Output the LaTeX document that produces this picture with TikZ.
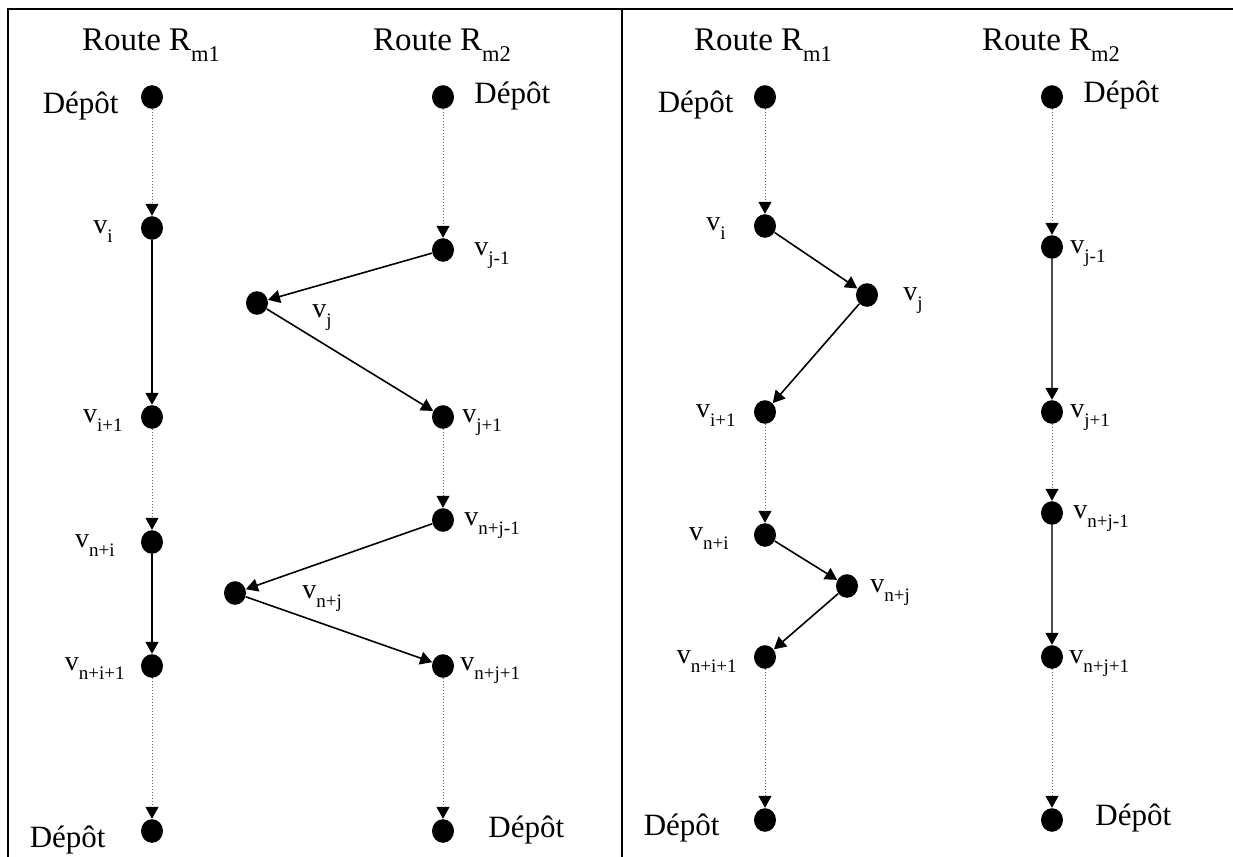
\documentclass[tikz,border=0pt]{standalone}
\usepackage{fontspec}
\setmainfont{Liberation Serif}
\usepackage{graphicx}
\usetikzlibrary{shapes.geometric, arrows.meta, positioning}

\newcommand{\lsub}[1]{\raisebox{-0.35em}{\scalebox{0.68}{#1}}}

\begin{document}
\begin{tikzpicture}[x=0.5pt, y=-0.5pt,
		stop/.style={ellipse, fill=black, inner sep=0pt, minimum width=11pt, minimum height=11.8pt},
		vlab/.style={inner sep=0pt, font=\fontsize{14}{16}\selectfont},
		deplab/.style={inner sep=0pt, font=\fontsize{15.5}{18}\selectfont},
		routelab/.style={inner sep=0pt, anchor=base, font=\fontsize{16.5}{20}\selectfont},
		link/.style={line width=0.8pt, -{Triangle[length=6pt, width=6.5pt]}},
		greylink/.style={link, draw=black!70, -{Triangle[length=6pt, width=6.5pt, color=black]}},
		hop/.style={densely dotted, line width=0.5pt, draw=black!60, -{Triangle[length=6pt, width=6.5pt, color=black]}},
		frame/.style={line width=1.2pt}]
		\useasboundingbox (0,0) rectangle (1233,857);

		% Frame
		\draw[frame] (7,9) -- (1233,9);
		\draw[frame] (8,9) -- (8,857);
		\draw[frame] (622,9) -- (622,857);

		% Left panel: routes before the move
		\node[routelab] (a1title) at (151,50) {Route R\lsub{m1}};
		\node[routelab] (a2title) at (442,50) {Route R\lsub{m2}};

		\node[stop] (a1dep) at (152,97) {};
		\node[stop] (a1vi) at (152,228) {};
		\node[stop] (a1vi1) at (152,417) {};
		\node[stop] (a1vni) at (152,542) {};
		\node[stop] (a1vni1) at (152,666) {};
		\node[stop] (a1end) at (152,831) {};

		\node[stop] (a2dep) at (443,97) {};
		\node[stop] (a2vj0) at (443,250) {};
		\node[stop] (a2vj) at (257,303) {};
		\node[stop] (a2vj1) at (443,417) {};
		\node[stop] (a2vnj0) at (443,520) {};
		\node[stop] (a2vnj) at (235,593) {};
		\node[stop] (a2vnj1) at (443,666) {};
		\node[stop] (a2end) at (443,831) {};

		\node[deplab, anchor=base east] (a1deplab) at (119,113) {Dépôt};
		\node[deplab, anchor=base west] (a2deplab) at (474,103) {Dépôt};
		\node[vlab, anchor=base east] (a1vilab) at (113,233) {v\lsub{i}};
		\node[vlab, anchor=base west] (a2vj0lab) at (474,255) {v\lsub{j-1}};
		\node[vlab, anchor=base west] (a2vjlab) at (312,317) {v\lsub{j}};
		\node[vlab, anchor=base east] (a1vi1lab) at (123,422) {v\lsub{i+1}};
		\node[vlab, anchor=base west] (a2vj1lab) at (462,422) {v\lsub{j+1}};
		\node[vlab, anchor=base west] (a2vnj0lab) at (464,525) {v\lsub{n+j-1}};
		\node[vlab, anchor=base east] (a1vnilab) at (115,547) {v\lsub{n+i}};
		\node[vlab, anchor=base west] (a2vnjlab) at (302,598) {v\lsub{n+j}};
		\node[vlab, anchor=base east] (a1vni1lab) at (125,670) {v\lsub{n+i+1}};
		\node[vlab, anchor=base west] (a2vnj1lab) at (460,670) {v\lsub{n+j+1}};
		\node[deplab, anchor=base east] (a1endlab) at (106,847) {Dépôt};
		\node[deplab, anchor=base west] (a2endlab) at (488,837) {Dépôt};

		\draw[hop] (a1dep) -- (a1vi);
		\draw[link] (a1vi) -- (a1vi1);
		\draw[hop] (a1vi1) -- (a1vni);
		\draw[link] (a1vni) -- (a1vni1);
		\draw[hop] (a1vni1) -- (a1end);

		\draw[hop] (a2dep) -- (a2vj0);
		\draw[link] (a2vj0) -- (a2vj);
		\draw[link] (a2vj) -- (a2vj1);
		\draw[hop] (a2vj1) -- (a2vnj0);
		\draw[link] (a2vnj0) -- (a2vnj);
		\draw[link] (a2vnj) -- (a2vnj1);
		\draw[hop] (a2vnj1) -- (a2end);

		% Right panel: routes after the move
		\node[routelab] (b1title) at (763,50) {Route R\lsub{m1}};
		\node[routelab] (b2title) at (1051,50) {Route R\lsub{m2}};

		\node[stop] (b1dep) at (765,97) {};
		\node[stop] (b1vi) at (765,226) {};
		\node[stop] (b1vj) at (867,295) {};
		\node[stop] (b1vi1) at (765,412) {};
		\node[stop] (b1vni) at (765,535) {};
		\node[stop] (b1vnj) at (847,586) {};
		\node[stop] (b1vni1) at (765,657) {};
		\node[stop] (b1end) at (765,820) {};

		\node[stop] (b2dep) at (1052,97) {};
		\node[stop] (b2vj0) at (1052,247) {};
		\node[stop] (b2vj1) at (1052,412) {};
		\node[stop] (b2vnj0) at (1052,513) {};
		\node[stop] (b2vnj1) at (1052,657) {};
		\node[stop] (b2end) at (1052,820) {};

		\node[deplab, anchor=base east] (b1deplab) at (734,112) {Dépôt};
		\node[deplab, anchor=base west] (b2deplab) at (1083,102) {Dépôt};
		\node[vlab, anchor=base east] (b1vilab) at (726,230) {v\lsub{i}};
		\node[vlab, anchor=base west] (b2vj0lab) at (1070,253) {v\lsub{j-1}};
		\node[vlab, anchor=base west] (b1vjlab) at (903,300) {v\lsub{j}};
		\node[vlab, anchor=base east] (b1vi1lab) at (736,417) {v\lsub{i+1}};
		\node[vlab, anchor=base west] (b2vj1lab) at (1070,417) {v\lsub{j+1}};
		\node[vlab, anchor=base west] (b2vnj0lab) at (1073,518) {v\lsub{n+j-1}};
		\node[vlab, anchor=base east] (b1vnilab) at (729,540) {v\lsub{n+i}};
		\node[vlab, anchor=base west] (b1vnjlab) at (870,592) {v\lsub{n+j}};
		\node[vlab, anchor=base east] (b1vni1lab) at (737,663) {v\lsub{n+i+1}};
		\node[vlab, anchor=base west] (b2vnj1lab) at (1069,663) {v\lsub{n+j+1}};
		\node[deplab, anchor=base east] (b1endlab) at (720,835) {Dépôt};
		\node[deplab, anchor=base west] (b2endlab) at (1095,825) {Dépôt};

		\draw[hop] (b1dep) -- (b1vi);
		\draw[link] (b1vi) -- (b1vj);
		\draw[link] (b1vj) -- (b1vi1);
		\draw[hop] (b1vi1) -- (b1vni);
		\draw[link] (b1vni) -- (b1vnj);
		\draw[link] (b1vnj) -- (b1vni1);
		\draw[hop] (b1vni1) -- (b1end);

		\draw[hop] (b2dep) -- (b2vj0);
		\draw[greylink] (b2vj0) -- (b2vj1);
		\draw[hop] (b2vj1) -- (b2vnj0);
		\draw[greylink] (b2vnj0) -- (b2vnj1);
		\draw[hop] (b2vnj1) -- (b2end);
	\end{tikzpicture}
\end{document}
